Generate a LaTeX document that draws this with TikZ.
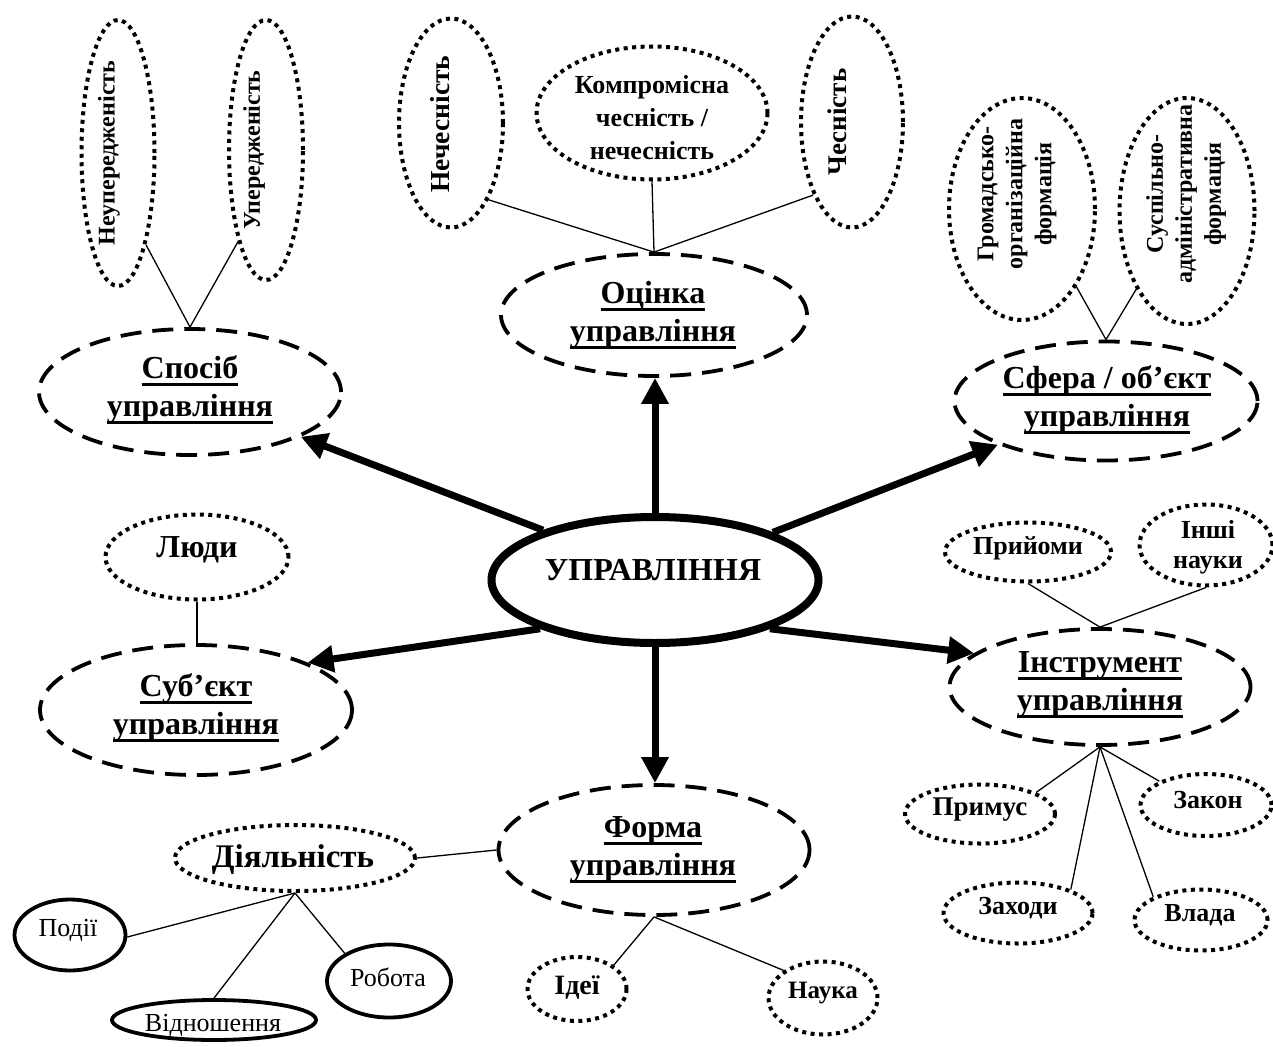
\documentclass[tikz,border=0pt]{standalone}
\usepackage{fontspec}
\setmainfont{Liberation Serif}
\usetikzlibrary{shapes.geometric,arrows.meta}

% heavy underline for the headings inside the dashed ellipses
\newsavebox\ulinebox
\newcommand\heavyul[1]{\sbox\ulinebox{#1}\rlap{\rule[-7pt]{\wd\ulinebox}{3pt}}\usebox\ulinebox}

\begin{document}
\begin{tikzpicture}[x=1pt,y=-1pt,
  mainel/.style={ellipse, draw, line width=8pt, inner sep=0pt},
  dashel/.style={ellipse, draw, line width=3.8pt, dash pattern=on 21pt off 11pt, inner sep=0pt},
  dotel/.style={ellipse, draw, line width=4pt, dash pattern=on 4pt off 4.5pt, inner sep=0pt},
  solel/.style={ellipse, draw, line width=3.8pt, inner sep=0pt},
  sz/.style 2 args={minimum width=#1pt, minimum height=#2pt},
  headtxt/.style={font=\fontsize{32}{38}\selectfont\bfseries, align=center, inner sep=0pt},
  midtxt/.style={font=\fontsize{32}{36}\selectfont\bfseries, align=center, inner sep=0pt},
  smalltxt/.style={font=\fontsize{26}{31}\selectfont\bfseries, align=center, inner sep=0pt},
  vtxt/.style={font=\fontsize{24}{29}\selectfont\bfseries, align=center, inner sep=0pt, rotate=90},
  plaintxt/.style={font=\fontsize{26}{31}\selectfont, align=center, inner sep=0pt},
  arr/.style={line width=7pt, -{Triangle[length=26pt,width=26pt]}},
  link/.style={line width=1.3pt}
]
\useasboundingbox (0,0) rectangle (1273,1046);

% central ellipse
\node[mainel, sz={327}{126}] (c) at (655,580) {};
\node[headtxt] (c-t) at (653,570) {УПРАВЛІННЯ};

% six dashed ellipses around it
\node[dashel, sz={302}{126}] (sp) at (190,392) {};
\node[headtxt] (sp-t) at (190,390) {\heavyul{Спосіб}\\\heavyul{управління}};
\node[dashel, sz={306}{122}] (oc) at (654,315) {};
\node[headtxt] (oc-t) at (653,315) {\heavyul{Оцінка}\\\heavyul{управління}};
\node[dashel, sz={303}{119}] (sf) at (1106,401) {};
\node[headtxt] (sf-t) at (1107,400) {\heavyul{Сфера / об’єкт}\\\heavyul{управління}};
\node[dashel, sz={312}{130}] (sb) at (196,710) {};
\node[headtxt] (sb-t) at (196,708) {\heavyul{Суб’єкт}\\\heavyul{управління}};
\node[dashel, sz={311}{130}] (fo) at (654,850) {};
\node[headtxt] (fo-t) at (653,850) {\heavyul{Форма}\\\heavyul{управління}};
\node[dashel, sz={301}{116}] (is) at (1100,687) {};
\node[headtxt] (is-t) at (1100,685) {\heavyul{Інструмент}\\\heavyul{управління}};

% thick arrows from the centre
\draw[arr] (c.156) -- (sp.338);
\draw[arr] (c.north) -- (c.north |- oc.south);
\draw[arr] (c.22.7) -- (sf.202);
\draw[arr] (c.203) -- (sb.23);
\draw[arr] (c.south) -- (c.south |- fo.north);
\draw[arr] (c.337) -- (is.165);

% Спосіб управління
\node[dotel, sz={73}{266}] (nup) at (118,153) {};
\node[vtxt] (nup-t) at (109,153) {Неупередженість};
\node[dotel, sz={74}{260}] (upr) at (266,150) {};
\node[vtxt] (upr-t) at (254,150) {Упередженість};
\draw[link] (nup.-73) -- (sp.north);
\draw[link] (upr.-107) -- (sp.north);

% Оцінка управління
\node[dotel, sz={104}{209}] (nech) at (451,123) {};
\node[vtxt, font=\fontsize{27.5}{31}\selectfont\bfseries] (nech-t) at (440,124) {Нечесність};
\node[dotel, sz={231}{133}] (komp) at (652,113) {};
\node[smalltxt, font=\fontsize{26}{33}\selectfont\bfseries] (komp-t) at (652,118) {Компромісна\\чесність /\\нечесність};
\node[dotel, sz={102}{211}] (ches) at (852,122) {};
\node[vtxt, font=\fontsize{27}{31}\selectfont\bfseries] (ches-t) at (837,122) {Чесність};
\draw[link] (nech.-64.7) -- (oc.north);
\draw[link] (komp.south) -- (oc.north);
\draw[link] (ches.242.5) -- (oc.north);

% Сфера / об'єкт управління
\node[dotel, sz={146}{222}] (grom) at (1022,209) {};
\node[vtxt] (grom-t) at (1017,194) {Громадсько-\\організаційна\\формація};
\node[dotel, sz={135}{226}] (susp) at (1187,211) {};
\node[vtxt] (susp-t) at (1186,194) {Суспільно-\\адміністративна\\формація};
\draw[link] (grom.-55.4) -- (sf.north);
\draw[link] (susp.237.2) -- (sf.north);

% Суб'єкт управління
\node[dotel, sz={183}{85}] (lyudy) at (197,557) {};
\node[midtxt] (lyudy-t) at (197,550) {Люди};
\draw[link] (lyudy.south) -- (lyudy.south |- sb.north);

% Форма управління
\node[dotel, sz={240}{66}] (diyal) at (295,858) {};
\node[midtxt, font=\fontsize{33}{36}\selectfont\bfseries] (diyal-t) at (293,860) {Діяльність};
\node[dotel, sz={99}{64}] (idei) at (577,989) {};
\node[smalltxt, font=\fontsize{28}{31}\selectfont\bfseries] (idei-t) at (577,988) {Ідеї};
\node[dotel, sz={109}{73}] (nauka) at (823,998) {};
\node[smalltxt, font=\fontsize{25}{30}\selectfont\bfseries] (nauka-t) at (823,993) {Наука};
\draw[link] (diyal.east) -- (fo.west);
\draw[link] (idei.33.7) -- (fo.south);
\draw[link] (nauka.145.6) -- (fo.south);

% Діяльність
\node[solel, sz={111}{71}] (podii) at (70,935) {};
\node[plaintxt] (podii-t) at (68,930) {Події};
\node[solel, sz={204}{40}] (vidn) at (214,1020) {};
\node[plaintxt] (vidn-t) at (213,1025) {Відношення};
\node[solel, sz={124}{73}] (robota) at (389,981) {};
\node[plaintxt] (robota-t) at (388,977) {Робота};
\draw[link] (podii.-2) -- (diyal.south);
\draw[link] (vidn.north) -- (diyal.south);
\draw[link] (robota.148.7) -- (diyal.south);

% Інструмент управління
\node[dotel, sz={166}{59}] (pryi) at (1028,552) {};
\node[smalltxt] (pryi-t) at (1028,548) {Прийоми};
\node[dotel, sz={133}{81}] (inshi) at (1206,545) {};
\node[smalltxt, font=\fontsize{26}{30}\selectfont\bfseries] (inshi-t) at (1208,547) {Інші\\науки};
\node[dotel, sz={150}{59}] (prym) at (980,814) {};
\node[smalltxt, font=\fontsize{27}{31}\selectfont\bfseries] (prym-t) at (980,810) {Примус};
\node[dotel, sz={131}{62}] (zakon) at (1206,805) {};
\node[smalltxt] (zakon-t) at (1208,800) {Закон};
\node[dotel, sz={149}{61}] (zakh) at (1018,913) {};
\node[smalltxt] (zakh-t) at (1018,908) {Заходи};
\node[dotel, sz={133}{61}] (vlada) at (1201,920) {};
\node[smalltxt] (vlada-t) at (1200,915) {Влада};
\draw[link] (pryi.south) -- (is.north);
\draw[link] (inshi.south) -- (is.north);
\draw[link] (prym.21.8) -- (is.south);
\draw[link] (zakon.153.4) -- (is.south);
\draw[link] (zakh.24.4) -- (is.south);
\draw[link] (vlada.154.4) -- (is.south);
\end{tikzpicture}
\end{document}
